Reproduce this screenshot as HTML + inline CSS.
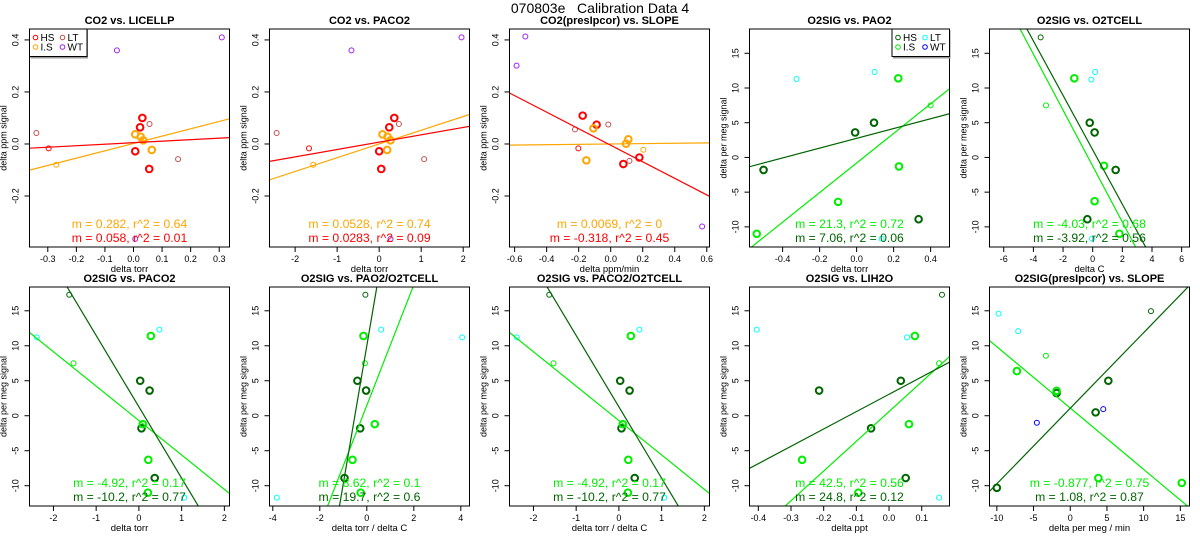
<!DOCTYPE html>
<html><head><meta charset="utf-8"><style>
html,body{margin:0;padding:0;background:#fff;overflow:hidden;width:1200px;height:550px;}
svg{display:block;font-family:"Liberation Sans",sans-serif;}
</style></head><body>
<svg id="chart" width="1200" height="550" viewBox="0 0 1200 550" xmlns="http://www.w3.org/2000/svg">
<rect width="1200" height="550" fill="#fff"/>
<text x="600" y="13" font-size="14" text-anchor="middle" style="white-space:pre">070803e   Calibration Data 4</text>
</svg>
<script>
// ---- data ----
const co2Groups = ['HS','HS','HS','HS','LS','LS','LS','LS','LT','LT','LT','hs','ls','WT','WT','WT'];
const co2Y = [0.10,0.064,-0.028,-0.096,0.037,0.028,0.014,-0.023,0.042,0.077,-0.058,-0.017,-0.08,0.36,0.41,-0.365];
const p1X = [0.031,0.023,0.006,0.055,0.006,0.025,0.034,0.064,-0.34,0.056,0.156,-0.297,-0.27,-0.058,0.309,0.006];
const p2X = [0.36,0.24,0.0,0.05,0.08,0.20,0.27,0.19,-2.44,0.47,1.07,-1.67,-1.57,-0.66,1.96,0.27];
const p3X = [-0.175,-0.088,0.079,0.179,-0.108,0.11,0.096,-0.152,-0.223,-0.015,0.117,-0.202,0.204,-0.533,-0.588,0.571];
const p3Y = [0.109,0.074,-0.077,-0.052,0.06,0.018,0.001,-0.063,0.056,0.075,-0.065,-0.017,-0.022,0.413,0.301,-0.317];

const o2Groups = ['HS','HS','HS','HS','LS','LS','LS','LS','ls','hs','LT','LT','LT'];
const o2Y = [5.0,3.6,-1.8,-8.9,11.4,-1.2,-6.3,-11.0,7.5,17.3,11.2,12.3,-11.7];
const p4X = [0.094,-0.008,-0.503,0.335,0.225,0.229,-0.1,-0.54,0.40,0.6,-0.325,0.097,0.135];
const p4Y = [5.0,3.6,-1.8,-8.9,11.4,-1.3,-6.4,-11.0,7.5,17.3,11.3,12.3,-11.7];
const p5X = [-0.2,0.13,1.55,-0.36,-1.24,0.76,0.13,1.8,-3.15,-3.51,-0.09,0.16,-0.05];
const p6X = [0.03,0.25,0.06,0.37,0.28,0.09,0.22,0.21,-1.53,-1.63,-2.39,0.48,1.06];
const p7X = [-0.40,-0.03,-0.28,-0.95,-0.14,0.34,-0.61,-0.26,-0.08,-0.06,4.06,0.61,-3.83];
const p9X = [0.036,-0.214,-0.055,0.051,0.079,0.061,-0.266,-0.094,0.153,0.162,0.055,-0.405,0.153];
const p10Groups = ['HS','HS','HS','HS','LS','LS','LS','LS','hs','ls','LT','LT','WT','WT'];
const p10X = [5.19,3.46,-10.0,-1.86,-1.86,-7.27,3.83,15.2,11.0,-3.32,-9.77,-7.09,-4.55,4.5];
const p10Y = [5.0,0.48,-10.3,3.24,3.57,6.38,-8.9,-9.6,14.95,8.57,14.6,12.1,-1.0,0.95];

const fitSlopes = [[0.282,0.058],[0.0528,0.0283],[0.0069,-0.318],[21.3,7.06],[-4.03,-3.92],[-4.92,-10.2],[8.62,19.7],[-4.92,-10.2],[42.5,24.8],[-0.877,1.08]];
const fitIntercepts = [[0.002,0.005],[0.0,0.007],[0.0,-0.005],[-0.8,2.75],[-1.24,1.1],[-0.69,1.27],[1.47,10.0],[-0.69,1.27],[0.6,3.07],[1.1,1.07]];
const fitLabels = [
 ['m = 0.282, r^2 = 0.64','m = 0.058, r^2 = 0.01'],
 ['m = 0.0528, r^2 = 0.74','m = 0.0283, r^2 = 0.09'],
 ['m = 0.0069, r^2 = 0','m = -0.318, r^2 = 0.45'],
 ['m = 21.3, r^2 = 0.72','m = 7.06, r^2 = 0.06'],
 ['m = -4.03, r^2 = 0.68','m = -3.92, r^2 = 0.56'],
 ['m = -4.92, r^2 = 0.17','m = -10.2, r^2 = 0.77'],
 ['m = 8.62, r^2 = 0.1','m = 19.7, r^2 = 0.6'],
 ['m = -4.92, r^2 = 0.17','m = -10.2, r^2 = 0.77'],
 ['m = 42.5, r^2 = 0.56','m = 24.8, r^2 = 0.12'],
 ['m = -0.877, r^2 = 0.75','m = 1.08, r^2 = 0.87']];
const titles = ['CO2 vs. LICELLP','CO2 vs. PACO2','CO2(presIpcor) vs. SLOPE','O2SIG vs. PAO2','O2SIG vs. O2TCELL','O2SIG vs. PACO2','O2SIG vs. PAO2/O2TCELL','O2SIG vs. PACO2/O2TCELL','O2SIG vs. LIH2O','O2SIG(presIpcor) vs. SLOPE'];
const xTitles = ['delta torr','delta torr','delta ppm/min','delta torr','delta C','delta torr','delta torr / delta C','delta torr / delta C','delta ppt','delta per meg / min'];
const xTickLists = [[-0.3,-0.2,-0.1,0,0.1,0.2,0.3],[-2,-1,0,1,2],[-0.6,-0.4,-0.2,0,0.2,0.4,0.6],[-0.4,-0.2,0,0.2,0.4],[-6,-4,-2,0,2,4,6],[-2,-1,0,1,2],[-4,-2,0,2,4],[-2,-1,0,1,2],[-0.4,-0.3,-0.2,-0.1,0,0.1],[-10,-5,0,5,10,15]];
const xTickText = [['-0.3','-0.2','-0.1','0.0','0.1','0.2','0.3'],['-2','-1','0','1','2'],['-0.6','-0.4','-0.2','0.0','0.2','0.4','0.6'],['-0.4','-0.2','0.0','0.2','0.4'],['-6','-4','-2','0','2','4','6'],['-2','-1','0','1','2'],['-4','-2','0','2','4'],['-2','-1','0','1','2'],['-0.4','-0.3','-0.2','-0.1','0.0','0.1'],['-10','-5','0','5','10','15']];
const co2YTicks = [-0.2,0,0.2,0.4];
const co2YTickText = ['-0.2','0.0','0.2','0.4'];
const o2YTicks = [-10,-5,0,5,10,15];
const o2YTickText = ['-10','-5','0','5','10','15'];
const xDomains = [[-0.364,0.336],[-2.61,2.15],[-0.632,0.617],[-0.579,0.502],[-6.96,6.53],[-2.56,2.12],[-4.14,4.37],[-2.56,2.12],[-0.427,0.185],[-11.0,16.25]];

// ---- styles ----
const co2Colors = {HS:'#ff0000',hs:'#ff0000',LS:'#ffa500',ls:'#ffa500',LT:'#c05050',WT:'#a020f0'};
const o2Colors = {HS:'#006400',hs:'#006400',LS:'#00ee00',ls:'#00ee00',LT:'#00ffff',WT:'#0000ff'};
const NS='http://www.w3.org/2000/svg';
const svg=document.getElementById('chart');
function mk(tag,attrs,parent){const e=document.createElementNS(NS,tag);for(const k in attrs)e.setAttribute(k,attrs[k]);(parent||svg).appendChild(e);return e;}

const panelX=[],panelY=[],panelG=[];
panelX.push(p1X,p2X,p3X,p4X,p5X,p6X,p7X,p6X,p9X,p10X);
panelY.push(co2Y,co2Y,p3Y,p4Y,o2Y,o2Y,o2Y,o2Y,o2Y,p10Y);
panelG.push(co2Groups,co2Groups,co2Groups,o2Groups,o2Groups,o2Groups,o2Groups,o2Groups,o2Groups,p10Groups);

for(let i=0;i<10;i++){
  const col=i%5,row=Math.floor(i/5);
  const L=col*240+29.5,R=L+200;
  const T=row===0?29:287,B=row===0?247:506;
  const isCO2=i<3;
  const yd=isCO2?[-0.396,0.442]:(row===0?[-12.9,18.5]:[-12.9,18.4]);
  const xd=xDomains[i];
  const sx=v=>L+(v-xd[0])/(xd[1]-xd[0])*(R-L);
  const sy=v=>B-(v-yd[0])/(yd[1]-yd[0])*(B-T);
  const colors=isCO2?co2Colors:o2Colors;
  const g=mk('g',{});
  
  
  const cp=mk('clipPath',{id:'cp'+i},g);
  mk('rect',{x:L,y:T,width:R-L,height:B-T},cp);
  const title=mk('text',{x:(L+R)/2,y:T-5,'font-size':11,'font-weight':'bold','text-anchor':'middle'},g);
  title.textContent=titles[i];
  
  
  const xt=xTickLists[i];
  for(let k=0;k<xt.length;k++){
    const px=sx(xt[k]);
    mk('line',{x1:px,x2:px,y1:B,y2:B+5,stroke:'#000','stroke-width':1},g);
    const t=mk('text',{x:px,y:B+15,'font-size':9,'text-anchor':'middle'},g);
    t.textContent=xTickText[i][k];
    
    
  }
  mk('line',{x1:sx(xt[0]),x2:sx(xt[xt.length-1]),y1:B,y2:B,stroke:'#000'},g);
  const xtl=mk('text',{x:(L+R)/2,y:B+25,'font-size':9.5,'text-anchor':'middle'},g);
  xtl.textContent=xTitles[i];
  
  
  const yt=isCO2?co2YTicks:o2YTicks, ytt=isCO2?co2YTickText:o2YTickText;
  for(let k=0;k<yt.length;k++){
    const py=sy(yt[k]);
    mk('line',{x1:L-5,x2:L,y1:py,y2:py,stroke:'#000'},g);
    const t=mk('text',{x:L-11,y:py,'font-size':9,'text-anchor':'middle',transform:'rotate(-90 '+(L-11)+' '+py+')'},g);
    t.textContent=ytt[k];
    
    
  }
  const ytl=mk('text',{x:L-23,y:(T+B)/2,'font-size':9,'text-anchor':'middle',transform:'rotate(-90 '+(L-23)+' '+((T+B)/2)+')'},g);
  ytl.textContent=isCO2?'delta ppm signal':'delta per meg signal';
  
  
  const X=panelX[i],Y=panelY[i],G=panelG[i];
  const pg=mk('g',{'clip-path':'url(#cp'+i+')'},g);
  for(let k=0;k<X.length;k++){
    const grp=G[k];const thick=(grp==='HS'||grp==='LS');
    const c=mk('circle',{cx:sx(X[k]),cy:sy(Y[k]),r:thick?3.3:2.5,fill:'none',stroke:colors[grp],'stroke-width':thick?2:1},pg);
    
    
  }
  const lineCols=isCO2?['#ffa500','#ff0000']:['#00ee00','#006400'];
  for(let j=0;j<2;j++){
    const m=fitSlopes[i][j],b=fitIntercepts[i][j];
    const ln=mk('line',{x1:sx(xd[0]),y1:sy(m*xd[0]+b),x2:sx(xd[1]),y2:sy(m*xd[1]+b),stroke:lineCols[j],'stroke-width':1.2},pg);
    
    
  }
  for(let j=0;j<2;j++){
    const a=mk('text',{x:(L+R)/2,y:B-19+j*14,'font-size':12.2,'text-anchor':'middle',fill:lineCols[j]},g);
    a.textContent=fitLabels[i][j];
    
    
  }
  mk('rect',{x:L,y:T,width:R-L,height:B-T,fill:'none',stroke:'#000','stroke-width':1},g);
  if(i===0||i===3){
    const lx=i===0?L:R-57.5, ly=T;
    const lg=mk('g',{},g);
    
    
    mk('rect',{x:lx+1,y:ly+1,width:57.5,height:28.5,fill:'#999'},lg);
    mk('rect',{x:lx,y:ly,width:57.5,height:27.5,fill:'#fff',stroke:'#000'},lg);
    const items=[['HS',0,0],['LT',1,0],['LS',0,1],['WT',1,1]];
    for(const it of items){
      const ex=lx+6+it[1]*27, ey=ly+8.5+it[2]*9.5;
      const e=mk('g',{},lg);
      
      
      mk('circle',{cx:ex,cy:ey,r:2.3,fill:'none',stroke:colors[it[0]],'stroke-width':1},e);
      const t=mk('text',{x:ex+5,y:ey+3.5,'font-size':10},e);
      t.textContent=it[0]==='LS'?'I.S':it[0];
    }
  }
}
</script>
</body></html>
